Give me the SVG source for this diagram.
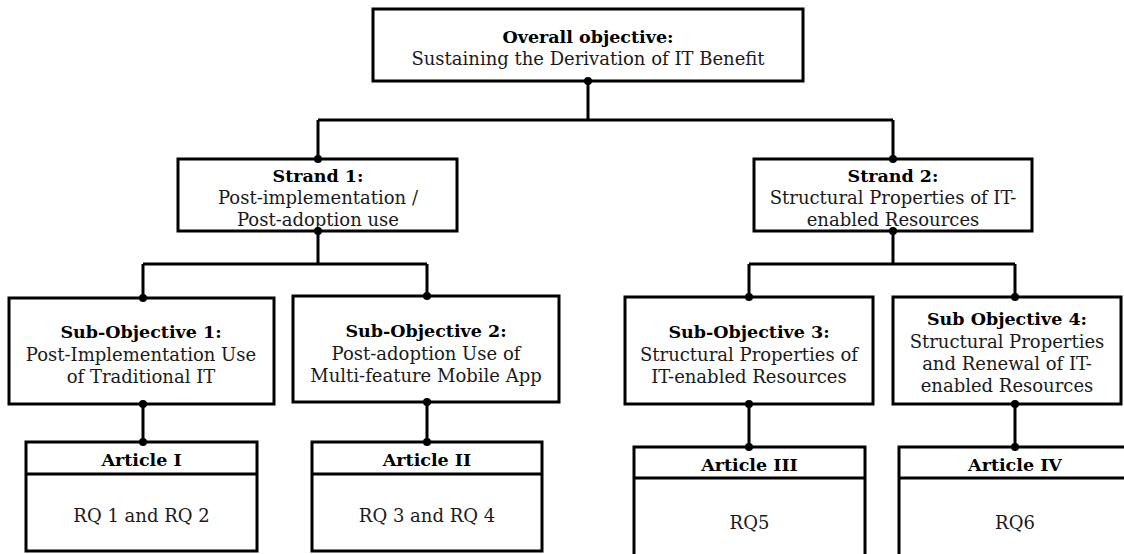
<svg xmlns="http://www.w3.org/2000/svg" width="1124" height="554" viewBox="0 0 1124 554">
<style>
  .box{fill:#fff;stroke:#000;stroke-width:3}
  .ln{fill:none;stroke:#000;stroke-width:3;stroke-linejoin:miter}
  .dot{fill:#000}
  text{font-family:"DejaVu Serif","Liberation Serif",serif;font-size:18px;fill:#1a1a1a;text-anchor:middle}
  .b{font-weight:bold;font-size:17.5px;fill:#000}
</style>
<rect width="1124" height="554" fill="#fff"/>
<g id="connectors">
  <path class="ln" d="M588,81 V120 M318,120 H893 M318,120 V159 M893,120 V159"/>
  <path class="ln" d="M318,231 V264 M143,264 H427 M143,264 V298 M427,264 V296"/>
  <path class="ln" d="M893,231 V264 M749,264 H1015 M749,264 V297 M1015,264 V297"/>
  <path class="ln" d="M143,404 V442 M427,402 V442 M749,404 V447 M1015,404 V447"/>
</g>
<g id="overall">
  <rect class="box" x="373" y="9" width="430" height="72"/>
  <text class="b" x="588" y="43">Overall objective:</text>
  <text x="588" y="65">Sustaining the Derivation of IT Benefit</text>
</g>
<g id="strand1">
  <rect class="box" x="178" y="159" width="279" height="72"/>
  <text class="b" x="318" y="182">Strand 1:</text>
  <text x="318" y="204">Post-implementation /</text>
  <text x="318" y="226">Post-adoption use</text>
</g>
<g id="strand2">
  <rect class="box" x="754" y="159" width="278" height="72"/>
  <text class="b" x="893" y="182">Strand 2:</text>
  <text x="893" y="204">Structural Properties of IT-</text>
  <text x="893" y="226">enabled Resources</text>
</g>
<g id="sub1">
  <rect class="box" x="9" y="298" width="265" height="106"/>
  <text class="b" x="141" y="338">Sub-Objective 1:</text>
  <text x="141" y="361">Post-Implementation Use</text>
  <text x="141" y="383">of Traditional IT</text>
</g>
<g id="sub2">
  <rect class="box" x="293" y="296" width="266" height="106"/>
  <text class="b" x="426" y="337">Sub-Objective 2:</text>
  <text x="426" y="360">Post-adoption Use of</text>
  <text x="426" y="382">Multi-feature Mobile App</text>
</g>
<g id="sub3">
  <rect class="box" x="625" y="297" width="248" height="107"/>
  <text class="b" x="749" y="338">Sub-Objective 3:</text>
  <text x="749" y="361">Structural Properties of</text>
  <text x="749" y="383">IT-enabled Resources</text>
</g>
<g id="sub4">
  <rect class="box" x="893" y="297" width="228" height="107"/>
  <text class="b" x="1007" y="325">Sub Objective 4:</text>
  <text x="1007" y="348">Structural Properties</text>
  <text x="1007" y="370">and Renewal of IT-</text>
  <text x="1007" y="392">enabled Resources</text>
</g>
<g id="article1">
  <rect class="box" x="26" y="442" width="231" height="109"/>
  <line class="ln" x1="26" y1="474" x2="257" y2="474"/>
  <text class="b" x="141.5" y="466">Article I</text>
  <text x="141.5" y="522">RQ 1 and RQ 2</text>
</g>
<g id="article2">
  <rect class="box" x="312" y="442" width="230" height="109"/>
  <line class="ln" x1="312" y1="474" x2="542" y2="474"/>
  <text class="b" x="427" y="466">Article II</text>
  <text x="427" y="522">RQ 3 and RQ 4</text>
</g>
<g id="article3">
  <rect class="box" x="634" y="447" width="231" height="120"/>
  <line class="ln" x1="634" y1="478" x2="865" y2="478"/>
  <text class="b" x="749.5" y="471">Article III</text>
  <text x="749.5" y="529">RQ5</text>
</g>
<g id="article4">
  <rect class="box" x="899" y="447" width="232" height="120"/>
  <line class="ln" x1="899" y1="478" x2="1131" y2="478"/>
  <text class="b" x="1015" y="471">Article IV</text>
  <text x="1015" y="529">RQ6</text>
</g>
<g id="dots">
  <circle class="dot" cx="588" cy="81" r="4"/>
  <circle class="dot" cx="318" cy="159" r="4"/>
  <circle class="dot" cx="893" cy="159" r="4"/>
  <circle class="dot" cx="318" cy="231" r="4"/>
  <circle class="dot" cx="893" cy="231" r="4"/>
  <circle class="dot" cx="143" cy="298" r="4"/>
  <circle class="dot" cx="427" cy="296" r="4"/>
  <circle class="dot" cx="749" cy="297" r="4"/>
  <circle class="dot" cx="1015" cy="297" r="4"/>
  <circle class="dot" cx="143" cy="404" r="4"/>
  <circle class="dot" cx="427" cy="402" r="4"/>
  <circle class="dot" cx="749" cy="404" r="4"/>
  <circle class="dot" cx="1015" cy="404" r="4"/>
  <circle class="dot" cx="143" cy="442" r="4"/>
  <circle class="dot" cx="427" cy="442" r="4"/>
  <circle class="dot" cx="749" cy="447" r="4"/>
  <circle class="dot" cx="1015" cy="447" r="4"/>
</g>
</svg>
